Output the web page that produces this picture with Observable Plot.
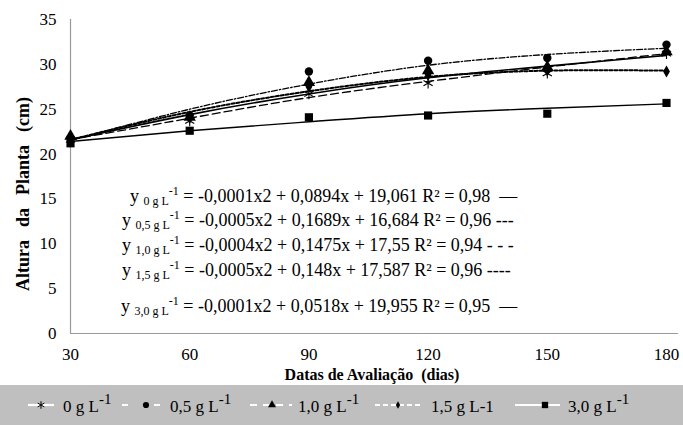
<!DOCTYPE html>
<html><head><meta charset="utf-8">
<script src="https://cdn.jsdelivr.net/npm/d3@7"></script>
<script src="https://cdn.jsdelivr.net/npm/@observablehq/plot@0.6"></script>
<style>
body{margin:0;background:#fff;font-family:"Liberation Serif",serif}
#legend{width:683px;height:40px;background:#bfbfbf}
</style>
</head><body>
<div id="chart"></div>
<div id="legend"></div>
<script>
// ---- data ----
const days = [30, 60, 90, 120, 150, 180];
const seriesNames = ["0 g L", "0,5 g L", "1,0 g L", "1,5 g L", "3,0 g L"];
const legendLabels = ["0 g L", "0,5 g L", "1,0 g L", "1,5 g L-1", "3,0 g L"];
const legendSup = ["-1", "-1", "-1", "", "-1"];
// observed means (cm)
const obs0  = [21.6, 23.7, 26.7, 27.9, 29.0, 31.2];
const obs05 = [21.8, 24.3, 29.2, 30.4, 30.7, 32.2];
const obs10 = [22.0, 24.1, 28.0, 29.3, 29.7, 31.4];
const obs15 = [21.6, 24.0, 27.5, 28.8, 29.3, 29.2];
const obs30 = [21.2, 22.6, 24.1, 24.3, 24.5, 25.7];
// trend lines
const fit0  = [21.6, 24.4, 26.7, 28.5, 29.8, 31.0];
const fit05 = [21.5, 25.0, 27.8, 29.9, 31.1, 31.8];
const fit10 = [21.6, 24.0, 26.3, 28.1, 29.7, 31.2];
const fit15 = [21.6, 24.7, 27.0, 28.6, 29.3, 29.3];
const fit30 = [21.4, 22.6, 23.6, 24.5, 25.1, 25.6];
// equations
const eqSub = ["0 g L", "0,5 g L", "1,0 g L", "1,5 g L", "3,0 g L"];
const eqBody = [
  " = -0,0001x2 + 0,0894x + 19,061 R² = 0,98  —",
  " = -0,0005x2 + 0,1689x + 16,684 R² = 0,96 ---",
  " = -0,0004x2 + 0,1475x + 17,55 R² = 0,94 - - -",
  " = -0,0005x2 + 0,148x + 17,587 R² = 0,96 ----",
  " = -0,0001x2 + 0,0518x + 19,955 R² = 0,95  —"
];
const yTicks = [0, 5, 10, 15, 20, 25, 30, 35];
const xTicks = [30, 60, 90, 120, 150, 180];

const FONT = "Liberation Serif";
const obsList = [obs0, obs05, obs10, obs15, obs30];
const fitList = [fit0, fit05, fit10, fit15, fit30];
const symbols = ["asterisk", "circle", "triangle", "diamond", "square"];
const sizes = [5, 4.2, 4.6, 3.6, 4.6];
const dashes = [null, "6,2,1.5,2", "8,4", "3,2", null];
const widths = [1.6, 1.3, 1.3, 2, 1.4];

const obsData = [], fitData = [];
seriesNames.forEach((s, i) => {
  days.forEach((d, j) => {
    obsData.push({s, i, d, v: obsList[i][j]});
    fitData.push({s, i, d, v: fitList[i][j]});
  });
});

const marks = [
  Plot.ruleX([30], {stroke: "#9a9a9a", strokeWidth: 1.2}),
  Plot.ruleY([0], {x1: 30, x2: 183, stroke: "#9a9a9a", strokeWidth: 1.2, clip: false}),
];
seriesNames.forEach((s, i) => {
  marks.push(Plot.line(fitData.filter(d => d.i === i), {
    x: "d", y: "v", curve: "natural", stroke: "black",
    strokeWidth: widths[i], strokeDasharray: dashes[i] || undefined
  }));
});
[4, 0, 3, 2, 1].forEach(i => {
  const isStroke = symbols[i] === "asterisk";
  marks.push(Plot.dot(obsData.filter(d => d.i === i), {
    x: "d", y: "v", symbol: () => symbols[i], r: sizes[i],
    fill: isStroke ? "none" : "black", stroke: isStroke ? "black" : "none",
    strokeWidth: 1.1
  }));
});

const chart = Plot.plot({
  width: 683, height: 385,
  marginLeft: 70, marginRight: 17, marginTop: 19, marginBottom: 52,
  style: {fontFamily: FONT, fontSize: "17px", color: "black", background: "white"},
  x: {domain: [30, 180], ticks: xTicks, tickSize: 0, tickPadding: 14, label: null},
  y: {domain: [0, 35], ticks: yTicks, tickSize: 0, tickPadding: 14, label: null},
  marks
});
document.getElementById("chart").appendChild(chart);

const svg = d3.select(chart);
// axis titles
svg.append("text")
  .attr("transform", "translate(29,194) rotate(-90)")
  .attr("text-anchor", "middle")
  .attr("font-family", FONT).attr("font-weight", "bold").attr("font-size", 18)
  .style("white-space", "pre").style("word-spacing", "2px")
  .text("Altura  da  Planta  (cm)");
svg.append("text")
  .attr("x", 372).attr("y", 380)
  .attr("text-anchor", "middle")
  .attr("font-family", FONT).attr("font-weight", "bold").attr("font-size", 16)
  .style("white-space", "pre")
  .text("Datas de Avaliação  (dias)");

// equations
const eqX = [130, 122, 122, 122, 121];
const eqY = [202, 226, 251, 276, 312];
eqBody.forEach((b, i) => {
  const t = svg.append("text").attr("x", eqX[i]).attr("y", eqY[i])
    .attr("text-anchor", "start")
    .attr("font-family", FONT).attr("font-size", 18).style("white-space", "pre");
  t.append("tspan").text("y ");
  t.append("tspan").attr("font-size", 12).attr("dy", 3).text(eqSub[i]);
  t.append("tspan").attr("font-size", 12).attr("dy", -10).text("-1");
  t.append("tspan").attr("dy", 7).text(b);
});

// legend
const lg = d3.select("#legend").append("svg").attr("width", 683).attr("height", 40);
const lineX = [[28, 54], [122, 160], [250, 292], [375, 420], [515, 560]];
const symX = [41, 146, 272, 398, 545];
const textX = [63, 170, 298, 431, 568];
const legSym = [d3.symbolAsterisk, d3.symbolCircle, d3.symbolTriangle, d3.symbolDiamond, d3.symbolSquare];
const legSize = [40, 30, 28, 16, 40];
seriesNames.forEach((s, i) => {
  lg.append("line").attr("x1", lineX[i][0]).attr("x2", lineX[i][1]).attr("y1", 20).attr("y2", 20)
    .attr("stroke", "white").attr("stroke-width", 2.2)
    .attr("stroke-dasharray", i === 1 ? "6,26,6" : i === 2 ? "7,6" : i === 3 ? "5,3" : null);
  const p = lg.append("path").attr("d", d3.symbol(legSym[i], legSize[i])())
    .attr("transform", `translate(${symX[i]},20)`);
  if (i === 0) p.attr("fill", "none").attr("stroke", "black").attr("stroke-width", 1);
  else p.attr("fill", "black");
  const t = lg.append("text").attr("x", textX[i]).attr("y", 27)
    .attr("font-family", FONT).attr("font-size", 17);
  t.append("tspan").text(legendLabels[i]);
  if (legendSup[i]) t.append("tspan").attr("dy", -8).attr("font-size", 15).text(legendSup[i]);
});
</script>
</body></html>
